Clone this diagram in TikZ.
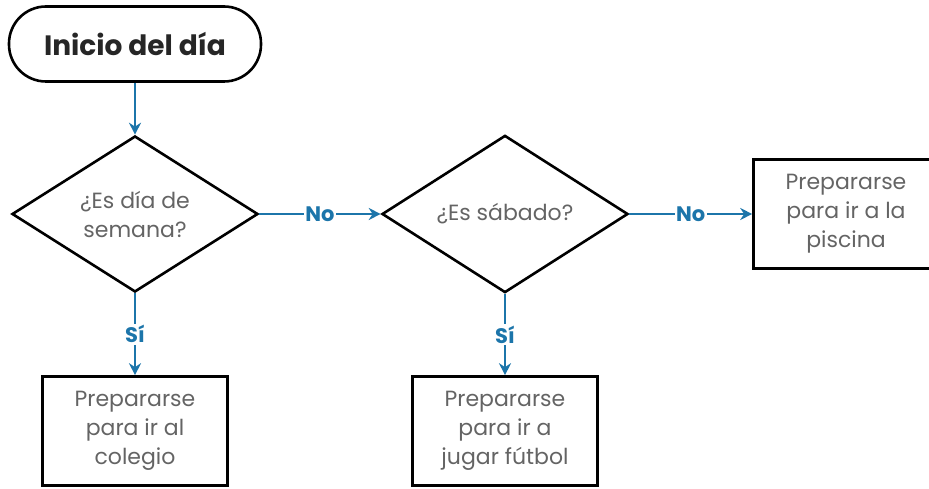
\documentclass[tikz,border=0pt]{standalone}
\usepackage{fontspec}
\setmainfont{Poppins}
\usepackage{tikz}
\usetikzlibrary{arrows.meta,shapes}
\definecolor{flujo}{RGB}{28,117,170}
\definecolor{gristexto}{RGB}{100,100,100}
\tikzstyle{inicio}=[draw,rounded corners=37pt,line width=2.6pt,minimum width=252pt,minimum height=75pt,font=\fontsize{28}{32}\selectfont\bfseries,text=black!85]
\tikzstyle{decision}=[diamond,draw,line width=2.6pt,minimum width=246pt,minimum height=147pt,inner sep=0pt,align=center,text=gristexto,font=\fontsize{22}{29}\selectfont]
\tikzstyle{accion}=[rectangle,draw,line width=2.6pt,minimum width=185pt,minimum height=109pt,align=center,text=gristexto,font=\fontsize{22}{29}\selectfont]
\tikzstyle{flecha} = [draw,line width=2.2pt,flujo,-{Stealth[length=12pt,width=12pt]}]
\tikzstyle{etiqueta} = [fill=white,inner sep=1.5pt,font=\fontsize{21}{21}\selectfont\bfseries,text=flujo]

\begin{document}
\begin{tikzpicture}[x=1pt,y=-1pt]
    \useasboundingbox (0,0) rectangle (929,489);

    \node[inicio] (inicio) at (135,44) {Inicio del día};
    \node[decision] (semana) at (135,214) {¿Es día de\\semana?};
    \node[decision] (sabado) at (505,214) {¿Es sábado?};

    % Cajas de accion
    \foreach \pos/\name/\lineas in {{(135,431)/colegio/{Prepararse\\para ir al\\colegio}},
        {(505,431)/futbol/{Prepararse\\para ir a\\jugar fútbol}},
        {(846,214)/piscina/{Prepararse\\para ir a la\\piscina}}}
        \node[accion] (\name) at \pos {\lineas};

    % Flechas con etiquetas
    \path[flecha] (inicio) -- (semana);
    \foreach \source/\dest/\weight in {semana/sabado/No, sabado/piscina/No, semana/colegio/Sí, sabado/futbol/Sí}
        \path[flecha] (\source) -- node[etiqueta] {\weight} (\dest);

\end{tikzpicture}
\end{document}
